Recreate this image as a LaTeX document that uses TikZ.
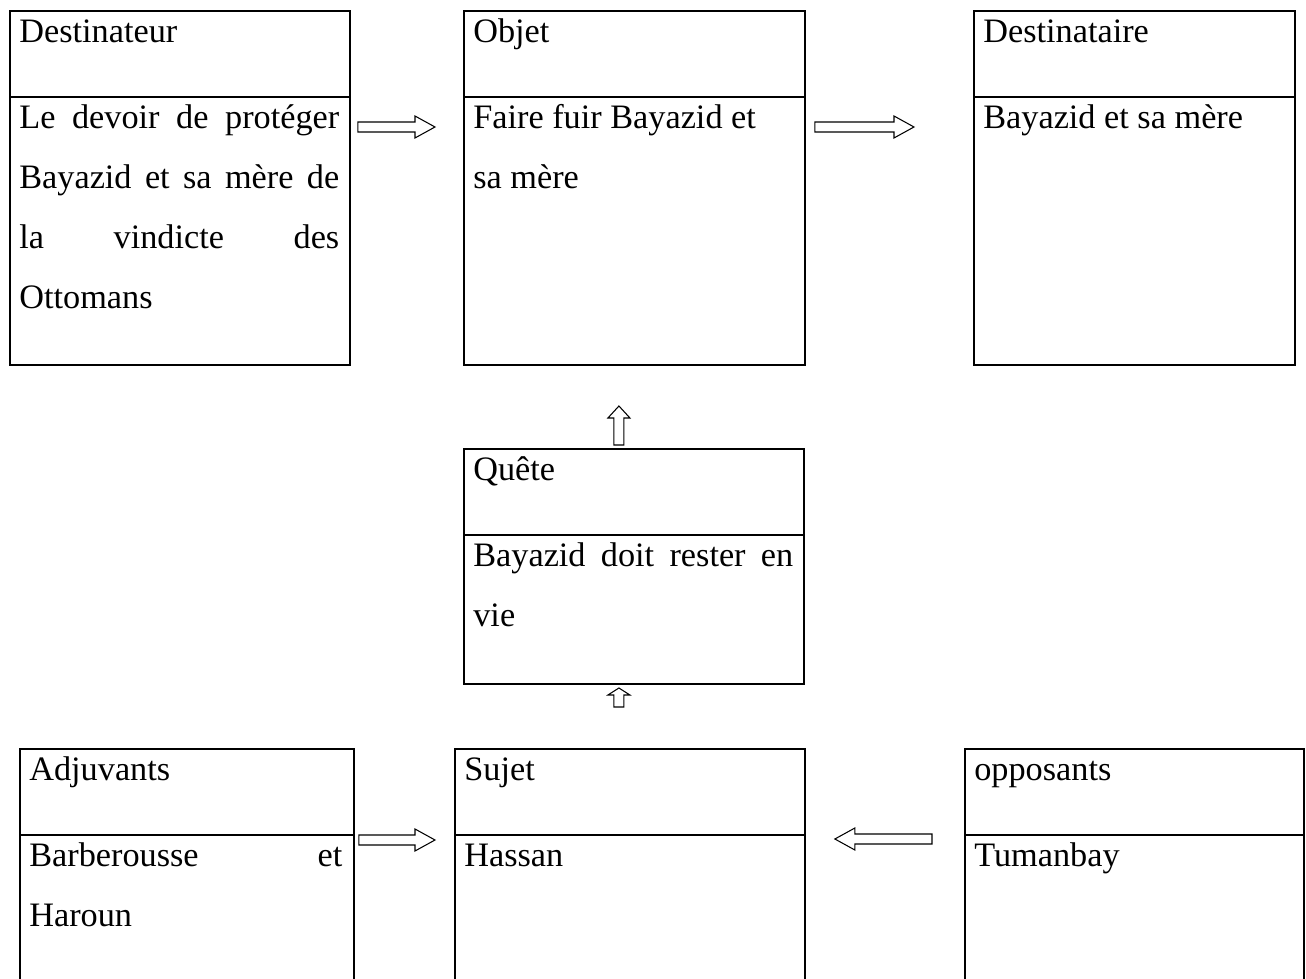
\documentclass[tikz,border=0pt]{standalone}
\usepackage{fontspec}
\setmainfont{Liberation Serif}
\usepackage{tikz}
\usetikzlibrary{calc, positioning}

\tikzset{
    actant/.style={draw, rectangle, anchor=north west, line width=1.1pt, inner sep=0pt},
    sep/.style={line width=1.1pt},
    heading/.style={anchor=base west, inner sep=0pt, font=\fontsize{19.5}{34.1}\selectfont},
    content/.style={heading, text width=#1, align=justify},
    % outlined block arrow between two points, #1 = head length
    hollow/.style={draw, line width=0.6pt, to path={
        ($(\tikztostart)!0.1cm!90:(\tikztotarget)$)
        -- ($(\tikztotarget)!#1!(\tikztostart)!0.1cm!-90:(\tikztostart)$)
        -- ($(\tikztotarget)!#1!(\tikztostart)!0.22cm!-90:(\tikztostart)$)
        -- (\tikztotarget)
        -- ($(\tikztotarget)!#1!(\tikztostart)!0.22cm!90:(\tikztostart)$)
        -- ($(\tikztotarget)!#1!(\tikztostart)!0.1cm!90:(\tikztostart)$)
        -- ($(\tikztostart)!0.1cm!-90:(\tikztotarget)$) -- cycle}},
    hollow/.default=0.4cm
}

\begin{document}
\begin{tikzpicture}[x=0.02cm, y=-0.02cm]
    \useasboundingbox (0,0) rectangle (1306,979);
    \clip (0,0) rectangle (1306,979);

    % Top row
    \node[actant, minimum width=6.8cm, minimum height=7.08cm] (dest) at (9,10) {};
    \node[actant, minimum width=6.82cm, minimum height=7.08cm] (obj) at (463,10) {};
    \node[actant, minimum width=6.42cm, minimum height=7.08cm] (destr) at (973,10) {};

    % Quest
    \node[actant, minimum width=6.8cm, minimum height=4.7cm] (quete) at (463,448) {};

    % Bottom row (runs past the lower edge)
    \node[actant, minimum width=6.68cm, minimum height=5.1cm] (adj) at (19,748) {};
    \node[actant, minimum width=7cm, minimum height=5.1cm] (sujet) at (454,748) {};
    \node[actant, minimum width=6.78cm, minimum height=5.1cm] (opp) at (964,748) {};

    % Header rules and titles
    \foreach \b/\t in {dest/Destinateur, obj/Objet, destr/Destinataire, quete/Quête,
                       adj/Adjuvants, sujet/Sujet, opp/opposants} {
        \draw[sep] ($(\b.north west)+(0,87)$) -- ($(\b.north east)+(0,87)$);
        \node[heading] (\b-t) at ($(\b.north west)+(10,33)$) {\t};
    }

    % Box contents
    \foreach \b/\w/\t in {
        dest/6.4cm/{Le devoir de protéger\linebreak Bayazid et sa mère de\linebreak la vindicte des\linebreak Ottomans},
        obj/6.4cm/{Faire fuir Bayazid et\newline sa mère},
        destr/6.0cm/{Bayazid et sa mère},
        quete/6.4cm/{Bayazid doit rester en\linebreak vie},
        adj/6.26cm/{Barberousse et\linebreak Haroun},
        sujet/6.58cm/{Hassan},
        opp/6.36cm/{Tumanbay}} {
        \node[content=\w] (\b-b) at ($(\b.north west)+(10,119)$) {\t};
    }

    % Arrow ends
    \coordinate (a1s) at ($(dest.north east)+(7,117)$);
    \coordinate (a1e) at ($(obj.north west)+(-28,117)$);
    \coordinate (a2s) at ($(obj.north east)+(9,117)$);
    \coordinate (a2e) at ($(destr.north west)+(-59,117)$);
    \coordinate (a3s) at ($(quete.north)+(-15,-3)$);
    \coordinate (a3e) at ($(quete.north)+(-15,-42)$);
    \coordinate (a4s) at ($(sujet.north)+(-11,-41)$);
    \coordinate (a4e) at ($(sujet.north)+(-11,-60)$);
    \coordinate (a5s) at ($(adj.north east)+(4,92)$);
    \coordinate (a5e) at ($(sujet.north west)+(-19,92)$);
    \coordinate (a6s) at ($(opp.north west)+(-32,91)$);
    \coordinate (a6e) at ($(sujet.north east)+(29,91)$);

    % Block arrows
    \draw[hollow] (a1s) to (a1e);
    \draw[hollow] (a2s) to (a2e);
    \draw[hollow=0.24cm] (a3s) to (a3e);
    \draw[hollow=0.14cm] (a4s) to (a4e);
    \draw[hollow] (a5s) to (a5e);
    \draw[hollow] (a6s) to (a6e);
\end{tikzpicture}
\end{document}
